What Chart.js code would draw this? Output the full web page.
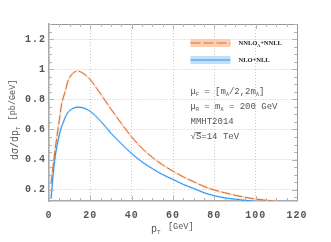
<!DOCTYPE html>
<html>
<head>
<meta charset="utf-8">
<script src="https://cdn.jsdelivr.net/npm/chart.js@4"></script>
<style>
  html, body { margin: 0; padding: 0; background: #fff; }
  #wrap { width: 331px; height: 242px; }
</style>
</head>
<body>
<div id="wrap"><canvas id="ptChart" width="331" height="242"></canvas></div>
<script>
const ptValues = [1, 2, 3, 4, 5, 6, 7, 8, 9, 10, 12, 14, 16, 18, 20, 25, 30, 35, 40, 45, 50, 55, 60, 65, 70, 75, 80, 85, 90, 95, 100, 105, 110];
// NNLO_A+NNLL  dsigma/dpT [pb/GeV]
const nnloValues = [0.24, 0.36, 0.47, 0.57, 0.66, 0.76, 0.815, 0.86, 0.915, 0.945, 0.978, 0.987, 0.977, 0.957, 0.93, 0.835, 0.735, 0.64, 0.55, 0.475, 0.415, 0.365, 0.323, 0.285, 0.253, 0.222, 0.198, 0.18, 0.163, 0.149, 0.138, 0.13, 0.121];
// NLO+NLL
const nloValues = [0.14, 0.30, 0.42, 0.50, 0.565, 0.615, 0.65, 0.685, 0.71, 0.725, 0.742, 0.748, 0.745, 0.735, 0.72, 0.655, 0.575, 0.505, 0.44, 0.385, 0.34, 0.30, 0.268, 0.235, 0.208, 0.18, 0.16, 0.146, 0.137, 0.129, 0.122, null, null];

const xTickLabels = [0, 20, 40, 60, 80, 100, 120];
const yTickLabels = [0.2, 0.4, 0.6, 0.8, 1, 1.2];

const monoFont = "'Liberation Mono', 'DejaVu Sans Mono', monospace";

function toPoints(values) {
    return ptValues.map((x, i) => ({ x: x, y: values[i] }));
}

// draws a list of [text, 'sub'|''] pieces, left to right
function drawParts(ctx, x, y, parts, size) {
    parts.forEach(p => {
        if (p[1] === 'sub') {
            ctx.font = Math.round(size * 0.6) + 'px ' + monoFont;
            ctx.fillText(p[0], x, y + size * 0.3);
        } else {
            ctx.font = size + 'px ' + monoFont;
            ctx.fillText(p[0], x, y);
        }
        x += ctx.measureText(p[0]).width;
    });
    return x;
}

const extrasPlugin = {
    id: 'extras',
    beforeDraw(chart) {
        chart.ctx.letterSpacing = '1px';
    },
    afterDatasetsDraw(chart) {
        const ctx = chart.ctx;
        const xs = chart.scales.x, ys = chart.scales.y;
        const a = chart.chartArea;
        ctx.save();
        ctx.letterSpacing = '0px';
        // frame
        ctx.strokeStyle = '#999';
        ctx.lineWidth = 1;
        ctx.beginPath();
        ctx.moveTo(a.left, a.top + 0.5);
        ctx.lineTo(a.right + 0.5, a.top + 0.5);
        ctx.lineTo(a.right + 0.5, a.bottom);
        ctx.stroke();
        // inner ticks
        ctx.strokeStyle = '#b5b5b5';
        for (let v = 5; v < 120; v += 5) {
            const px = Math.round(xs.getPixelForValue(v)) + 0.5;
            const len = v % 20 === 0 ? 5 : 3;
            ctx.beginPath();
            ctx.moveTo(px, a.bottom); ctx.lineTo(px, a.bottom - len);
            ctx.moveTo(px, a.top); ctx.lineTo(px, a.top + len);
            ctx.stroke();
        }
        for (let k = 3; k <= 26; k++) {
            const v = k * 0.05;
            const py = Math.round(ys.getPixelForValue(v)) + 0.5;
            const len = k % 4 === 0 ? 5 : 3;
            ctx.beginPath();
            ctx.moveTo(a.left, py); ctx.lineTo(a.left + len, py);
            ctx.moveTo(a.right, py); ctx.lineTo(a.right - len, py);
            ctx.stroke();
        }
        ctx.restore();
    },
    afterDraw(chart) {
        const ctx = chart.ctx;
        ctx.save();
        ctx.letterSpacing = '0px';
        ctx.textBaseline = 'middle';
        ctx.textAlign = 'left';

        // legend
        const legendRows = [
            { y: 43, band: 'rgba(250,195,155,0.8)', line: '#d9733a', dash: [10, 3],
              parts: [['NNLO', ''], ['A', 'sub'], ['+NNLL', '']] },
            { y: 60, band: 'rgba(180,215,245,0.8)', line: '#2196f3', dash: [],
              parts: [['NLO+NLL', '']] }
        ];
        legendRows.forEach(r => {
            ctx.fillStyle = r.band;
            ctx.fillRect(190.5, r.y - 4, 40, 8);
            ctx.strokeStyle = r.line;
            ctx.lineWidth = 1.2;
            ctx.setLineDash(r.dash);
            ctx.beginPath();
            ctx.moveTo(190.5, r.y); ctx.lineTo(230.5, r.y);
            ctx.stroke();
            ctx.setLineDash([]);
            ctx.fillStyle = '#222';
            let x = 238.5;
            r.parts.forEach(p => {
                if (p[1] === 'sub') {
                    ctx.font = "bold 4px 'Liberation Serif'";
                    ctx.fillText(p[0], x, r.y + 2.5);
                } else {
                    ctx.font = "bold 6.5px 'Liberation Serif'";
                    ctx.fillText(p[0], x, r.y);
                }
                x += ctx.measureText(p[0]).width;
            });
        });

        // annotations
        ctx.fillStyle = '#555';
        const ax = 190.5;
        drawParts(ctx, ax, 92, [['\u03bc', ''], ['F', 'sub'], [' = [m', ''], ['A', 'sub'], ['/2,2m', ''], ['A', 'sub'], [']', '']], 9);
        drawParts(ctx, ax, 107, [['\u03bc', ''], ['R', 'sub'], [' = m', ''], ['A', 'sub'], [' = 200 GeV', '']], 9);
        drawParts(ctx, ax, 122, [['MMHT2014', '']], 9);
        const sx = drawParts(ctx, ax, 137, [['\u221a', '']], 9);
        drawParts(ctx, sx, 137, [['S=14 TeV', '']], 9);
        ctx.strokeStyle = '#555';
        ctx.lineWidth = 0.8;
        ctx.beginPath();
        ctx.moveTo(sx - 0.5, 132.5); ctx.lineTo(sx + 5.5, 132.5);
        ctx.stroke();

        // axis titles
        ctx.fillStyle = '#555';
        drawParts(ctx, 151, 229, [['p', ''], ['T', 'sub']], 10);
        drawParts(ctx, 168, 227, [['[GeV]', '']], 8.5);

        ctx.translate(15, 160);
        ctx.rotate(-Math.PI / 2);
        const t1 = drawParts(ctx, 0, 0, [['d\u03c3/dp', ''], ['T', 'sub']], 10);
        drawParts(ctx, t1 + 6, -2, [['[pb/GeV]', '']], 8.5);
        ctx.restore();
    }
};

const ctx = document.getElementById('ptChart').getContext('2d');
const ptChart = new Chart(ctx, {
    type: 'line',
    data: {
        datasets: [
            {
                label: 'NNLO band',
                data: toPoints(nnloValues),
                borderColor: 'rgba(250,190,145,0.5)',
                borderWidth: 2.2,
                order: 2
            },
            {
                label: 'NLO band',
                data: toPoints(nloValues),
                borderColor: 'rgba(160,205,245,0.5)',
                borderWidth: 2.2,
                order: 2
            },
            {
                label: 'NNLOA+NNLL',
                data: toPoints(nnloValues),
                borderColor: '#d46a30',
                borderWidth: 1,
                borderDash: [9, 3],
                order: 1
            },
            {
                label: 'NLO+NLL',
                data: toPoints(nloValues),
                borderColor: '#1e90f0',
                borderWidth: 1,
                order: 1
            }
        ]
    },
    options: {
        responsive: false,
        animation: false,
        events: [],
        layout: { padding: { top: 24, right: 34, left: 0, bottom: 0 } },
        elements: {
            point: { radius: 0 },
            line: { tension: 0.4, cubicInterpolationMode: 'monotone', fill: false }
        },
        plugins: { legend: { display: false }, tooltip: { enabled: false } },
        scales: {
            x: {
                type: 'linear',
                min: 0,
                max: 120,
                afterFit: s => { s.height = 41; },
                afterBuildTicks: s => { s.ticks = xTickLabels.map(v => ({ value: v })); },
                ticks: {
                    padding: 8,
                    color: '#555',
                    font: { family: monoFont, size: 10, weight: 'bold' },
                    maxRotation: 0,
                    autoSkip: false
                },
                grid: { color: '#c8c8c8', drawTicks: false, lineWidth: 1 },
                border: { display: true, color: '#aaa', width: 1.5, dash: [1, 2] }
            },
            y: {
                min: 0.125,
                max: 1.3,
                afterFit: s => { s.width = 49; },
                afterBuildTicks: s => { s.ticks = yTickLabels.map(v => ({ value: v })); },
                ticks: {
                    padding: 3,
                    color: '#555',
                    font: { family: monoFont, size: 10, weight: 'bold' },
                    callback: v => String(Number(v.toFixed(2)))
                },
                grid: { color: '#c8c8c8', drawTicks: false, lineWidth: 1 },
                border: { display: true, color: '#aaa', width: 1.5, dash: [1, 2] }
            }
        }
    },
    plugins: [extrasPlugin]
});
</script>
</body>
</html>
